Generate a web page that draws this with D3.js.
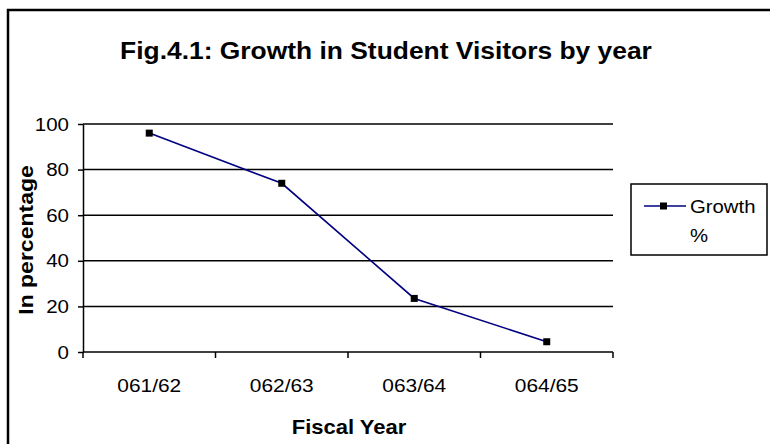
<!DOCTYPE html>
<html>
<head>
<meta charset="utf-8">
<script src="https://cdn.jsdelivr.net/npm/d3@7/dist/d3.min.js"></script>
<style>
  html, body { margin: 0; padding: 0; background: #fff; }
  svg { display: block; font-family: "Liberation Sans", Arial, sans-serif; }
</style>
</head>
<body>
<svg id="chart" width="770" height="444"></svg>
<script>
// Fiscal years and growth of student visitors (%)
const years = ["061/62", "062/63", "063/64", "064/65"];
const growth = [96, 74, 23.5, 4.5];
const yTicks = [0, 20, 40, 60, 80, 100];
const seriesName = ["Growth", "%"];

const svg = d3.select("#chart");
const plot = { left: 83, right: 613, top: 124, bottom: 352 };
const FONT = "Liberation Sans, Arial, sans-serif";

// Stretch text glyphs along their baseline by factor k
function stretch(sel, k, base) {
  sel.each(function () {
    const t = d3.select(this);
    const tx = +t.attr("x") || 0, ty = +t.attr("y") || 0;
    t.attr("x", 0).attr("y", 0)
      .attr("transform", `${base || ""} translate(${tx},${ty}) scale(${k},1)`);
  });
  return sel;
}

// Outer frame
svg.append("rect")
  .attr("x", 8).attr("y", 10)
  .attr("width", 800).attr("height", 480)
  .attr("fill", "none").attr("stroke", "#000").attr("stroke-width", 2.5);

// Title
stretch(svg.append("text")
  .attr("x", 386).attr("y", 59)
  .attr("text-anchor", "middle")
  .attr("font-size", 24).attr("font-weight", "bold")
  .text("Fig.4.1: Growth in Student Visitors by year"), 1.1);

const x = d3.scaleBand().domain(years).range([plot.left, plot.right]);
const y = d3.scaleLinear().domain([0, 100]).range([plot.bottom, plot.top]);

// Horizontal gridlines
svg.append("g")
  .selectAll("line")
  .data(yTicks.filter(d => d > 0))
  .join("line")
  .attr("x1", plot.left).attr("x2", plot.right)
  .attr("y1", d => y(d)).attr("y2", d => y(d))
  .attr("stroke", "#000").attr("stroke-width", 1.5);

// Y axis
const yAxis = svg.append("g")
  .attr("transform", `translate(${plot.left},0)`)
  .call(d3.axisLeft(y).tickValues(yTicks).tickSize(5).tickPadding(9).tickSizeOuter(0));
yAxis.select(".domain").attr("stroke", "#000").attr("stroke-width", 1.5);
yAxis.selectAll(".tick line").attr("stroke", "#000").attr("stroke-width", 1.5);
stretch(yAxis.selectAll("text").attr("font-size", 19).attr("fill", "#000")
  .attr("font-family", FONT), 1.08);

// X axis with ticks on category boundaries
const xAxis = svg.append("g")
  .attr("transform", `translate(0,${plot.bottom})`)
  .call(d3.axisBottom(x).tickSize(0).tickPadding(27));
xAxis.select(".domain").remove();
stretch(xAxis.selectAll("text").attr("font-size", 19).attr("fill", "#000")
  .attr("font-family", FONT), 1.1);
const xg = svg.append("g");
xg.append("line")
  .attr("x1", plot.left).attr("x2", plot.right)
  .attr("y1", plot.bottom).attr("y2", plot.bottom)
  .attr("stroke", "#000").attr("stroke-width", 1.5);
const bounds = years.map(d => x(d)).concat([x(years[years.length - 1]) + x.bandwidth()]);
xg.selectAll("line.tk")
  .data(bounds)
  .join("line")
  .attr("class", "tk")
  .attr("x1", d => d).attr("x2", d => d)
  .attr("y1", plot.bottom).attr("y2", plot.bottom + 6)
  .attr("stroke", "#000").attr("stroke-width", 1.5);

// Axis titles
stretch(svg.append("text")
  .attr("x", 349).attr("y", 434)
  .attr("text-anchor", "middle")
  .attr("font-size", 20).attr("font-weight", "bold")
  .text("Fiscal Year"), 1.1);
stretch(svg.append("text")
  .attr("text-anchor", "middle")
  .attr("font-size", 20).attr("font-weight", "bold")
  .text("In percentage"), 1.15, "translate(33,240) rotate(-90)");

// Series line and markers
const cx = d => x(d) + x.bandwidth() / 2;
svg.append("path")
  .datum(growth)
  .attr("fill", "none").attr("stroke", "#000080").attr("stroke-width", 1.6)
  .attr("d", d3.line().x((d, i) => cx(years[i])).y(d => y(d)));
svg.append("g")
  .selectAll("rect")
  .data(growth)
  .join("rect")
  .attr("x", (d, i) => cx(years[i]) - 3.5).attr("y", d => y(d) - 3.5)
  .attr("width", 7).attr("height", 7)
  .attr("fill", "#000");

// Legend
const lg = svg.append("g");
lg.append("rect")
  .attr("x", 631).attr("y", 184).attr("width", 136).attr("height", 71)
  .attr("fill", "#fff").attr("stroke", "#000").attr("stroke-width", 1.5);
lg.append("line")
  .attr("x1", 644).attr("x2", 686).attr("y1", 206).attr("y2", 206)
  .attr("stroke", "#000080").attr("stroke-width", 1.6);
lg.append("rect")
  .attr("x", 660).attr("y", 202.5).attr("width", 7).attr("height", 7)
  .attr("fill", "#000");
stretch(lg.selectAll("text")
  .data(seriesName)
  .join("text")
  .attr("x", 690)
  .attr("y", (d, i) => 213 + i * 29)
  .attr("font-size", 19)
  .text(d => d), 1.07);
</script>
</body>
</html>
